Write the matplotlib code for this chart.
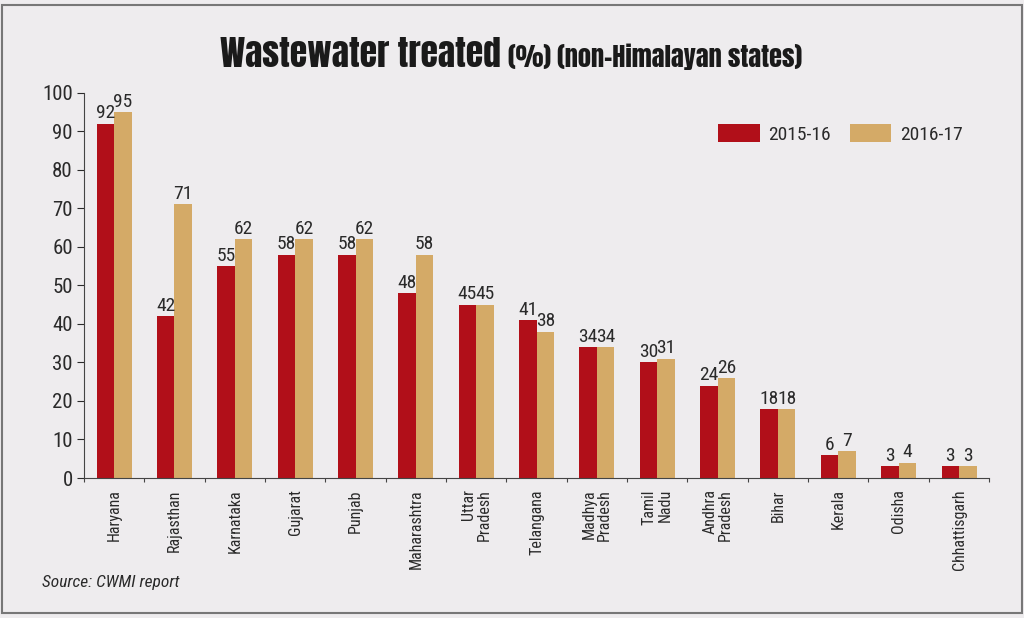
import matplotlib.pyplot as plt
import numpy as np
from matplotlib.patches import Rectangle

plt.rcParams['font.family'] = ['Roboto Condensed', 'DejaVu Sans']

states = ['Haryana', 'Rajasthan', 'Karnataka', 'Gujarat', 'Punjab', 'Maharashtra',
          'Uttar\nPradesh', 'Telangana', 'Madhya\nPradesh', 'Tamil\nNadu',
          'Andhra\nPradesh', 'Bihar', 'Kerala', 'Odisha', 'Chhattisgarh']
y2015 = [92, 42, 55, 58, 58, 48, 45, 41, 34, 30, 24, 18, 6, 3, 3]
y2016 = [95, 71, 62, 62, 62, 58, 45, 38, 34, 31, 26, 18, 7, 4, 3]
yticks = [0, 10, 20, 30, 40, 50, 60, 70, 80, 90, 100]

red = '#b10f19'
tan = '#d4aa67'
bg = '#eeecee'
txt = '#2a2a2a'

fig = plt.figure(figsize=(10.24, 6.18), dpi=100, facecolor=bg)
fig.patches.append(Rectangle((0.002, 0.008), 0.996, 0.984, transform=fig.transFigure,
                             fill=False, edgecolor='#777777', linewidth=1.5))

ax = fig.add_axes([0.082, 0.2265, 0.884, 0.6235])
ax.set_facecolor(bg)

x = np.arange(len(states))
w = 0.29
b1 = ax.bar(x - w / 2, y2015, w, color=red, label='2015-16')
b2 = ax.bar(x + w / 2, y2016, w, color=tan, label='2016-17')

for bars, vals in ((b1, y2015), (b2, y2016)):
    for r, v in zip(bars, vals):
        ax.text(r.get_x() + r.get_width() / 2, v + 0.3, str(v), ha='center', va='bottom',
                fontsize=14, color=txt)

ax.set_xlim(-0.5, len(states) - 0.5)
ax.set_ylim(0, 100)
ax.set_yticks(yticks)
ax.tick_params(axis='y', labelsize=15, colors=txt, length=5, width=0.8, pad=3)
ax.set_xticks(x)
ax.set_xticklabels(states, rotation=90, fontsize=11.5, color=txt, va='top', ha='center',
                   multialignment='right', linespacing=1.05)
ax.tick_params(axis='x', length=0, pad=8)
ax.set_xticks(np.arange(-0.5, len(states), 1), minor=True)
ax.tick_params(axis='x', which='minor', length=3, width=0.8, color='#444444')

for s in ('top', 'right'):
    ax.spines[s].set_visible(False)
ax.spines['left'].set_color('#444444')
ax.spines['bottom'].set_color('#444444')
ax.spines['left'].set_linewidth(0.8)
ax.spines['bottom'].set_linewidth(0.8)

ax.legend(loc='center right', bbox_to_anchor=(0.971, 0.893), ncol=2, frameon=False,
          fontsize=14, handlelength=2.15, handleheight=1.0, columnspacing=0.95,
          handletextpad=0.45, borderpad=0, borderaxespad=0, labelcolor=txt)

fig.text(0.489, 0.913, 'Wastewater treated', ha='right', va='center', fontsize=25.5,
         family=['Anton', 'DejaVu Sans'], color='#1a1a1a')
fig.text(0.496, 0.908, '(%) (non-Himalayan states)', ha='left', va='center', fontsize=19,
         family=['Anton', 'DejaVu Sans'], color='#1a1a1a')

fig.text(0.041, 0.057, 'Source: CWMI report', ha='left', va='center', fontsize=12.5,
         style='italic', color=txt)

fig.savefig('out.png', dpi=100, facecolor=bg)
